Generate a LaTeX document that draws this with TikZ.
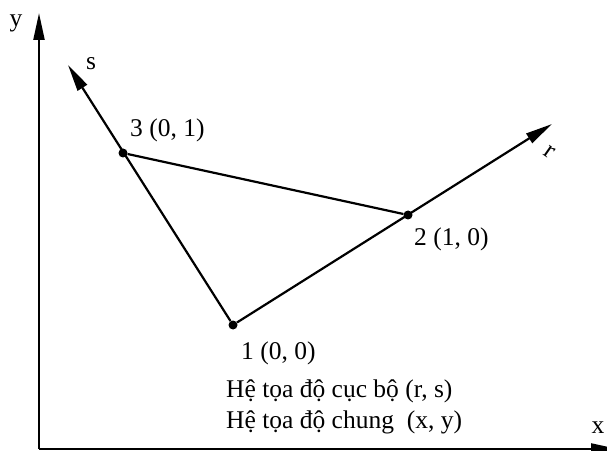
\documentclass[tikz,border=0pt]{standalone}
\usepackage{fontspec}
\setmainfont{Liberation Serif}
\usetikzlibrary{arrows.meta}
\begin{document}
\begin{tikzpicture}[x=1pt,y=1pt,
  ax/.style={line width=2.2pt,-{Triangle[length=27pt,width=11pt]}},
  edge/.style={line width=2.2pt},
  pt/.style={circle,fill=black,inner sep=0pt,minimum size=9pt},
  lbl/.style={font=\fontsize{25.5}{30}\selectfont,inner sep=0pt}]
\useasboundingbox (0,0) rectangle (607,450);
% axes
\coordinate (O) at (39,1);
\coordinate (ytip) at (39,437);
\coordinate (xtip) at (618,1);
\draw[ax] (O) -- (ytip);
\draw[ax] (O) -- (xtip);
\node[lbl] (ylbl) at (16,427) {y};
\node[lbl] (xlbl) at (598,22) {x};
% nodes
\node[pt] (n1) at (233,125) {};
\node[pt] (n2) at (408,235) {};
\node[pt] (n3) at (123,297) {};
\coordinate (stip) at (68,385);
\coordinate (rtip) at (552,326);
% local axes
\draw[ax] (n1) -- (rtip);
\draw[ax] (n1) -- (stip);
\draw[edge] (n3) -- (n2);
\node[lbl] (slbl) at (91,386) {s};
\node[lbl,rotate=-35] (rlbl) at (549,298) {r};
% labels
\node[lbl,anchor=base west] (l3) at (130,313) {3 (0, 1)};
\node[lbl,anchor=base west] (l2) at (414,204) {2 (1, 0)};
\node[lbl,anchor=base west] (l1) at (241,91) {1 (0, 0)};
\node[lbl,anchor=base west] (t1) at (226,53) {Hệ tọa độ cục bộ (r, s)};
\node[lbl,anchor=base west] (t2) at (226,22) {Hệ tọa độ chung\ \ (x, y)};
\end{tikzpicture}
\end{document}
